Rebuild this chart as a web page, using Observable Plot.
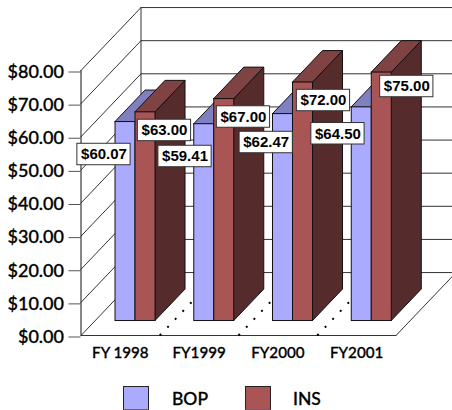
<!DOCTYPE html>
<html>
<head>
<meta charset="utf-8">
<script src="https://cdn.jsdelivr.net/npm/d3@7"></script>
<script src="https://cdn.jsdelivr.net/npm/@observablehq/plot@0.6"></script>
<style>
  html, body { margin: 0; padding: 0; background: #fff; overflow: hidden; }
  #legend { position: relative; height: 35px; font: 500 17.5px Lato, sans-serif; color: #000; -webkit-text-stroke: 0.3px #000; }
  #legend i { position: absolute; top: 11px; width: 24px; height: 22px; border: 1px solid #222; border-bottom-color: #666; }
  #legend span { position: absolute; top: 13px; line-height: 22px; }
  svg g[aria-label="y-axis tick label"] text, svg g[aria-label="x-axis tick label"] text { stroke: #000; stroke-width: 0.3px; }
</style>
</head>
<body>
<div id="chart"></div>
<div id="legend"></div>
<script>
// Budget figures per fiscal year
const fiscalYears = ["FY 1998", "FY1999", "FY2000", "FY2001"];
const bopValues = [60.07, 59.41, 62.47, 64.5];
const insValues = [63, 67, 72, 75];
const axisValues = [0, 10, 20, 30, 40, 50, 60, 70, 80];

// Where each value tag sits relative to its bar: slots across, dollars up
const bopTagAcross = [0.292, 0.321, 0.352, 0.263];
const bopTagUp = [-5.43, -5.37, -4.21, -3.6];
const insTagAcross = [1.06, 1.063, 1.079, 1.137];
const insTagUp = [-1.1, -1.04, -1.06, 0.17];

// Oblique projection: depth 0 is the front of the floor, depth 1 the back wall
const depthAcross = 0.762;
const depthUp = 19;
const px = (slot, depth) => slot + depth * depthAcross;
const py = (value, depth) => value + depth * depthUp;

const barFront = 0.23;
const barBack = 0.73;
const barStart = 0.263;
const barWidth = 0.254;
const lastSlot = fiscalYears.length;

const series = [
  {name: "BOP", values: bopValues, offset: 0, front: "#aaaaff", top: "#8080c0", side: "#55557f", across: bopTagAcross, up: bopTagUp},
  {name: "INS", values: insValues, offset: 1, front: "#aa5555", top: "#804343", side: "#552b2b", across: insTagAcross, up: insTagUp}
];

// Wall and floor lines
const frameLines = [];
const addLine = (id, points) => points.forEach(([x, y]) => frameLines.push({id, x, y}));
axisValues.forEach(v => {
  addLine(`side${v}`, [[px(0, 0), py(v, 0)], [px(0, 1), py(v, 1)]]);
  addLine(`back${v}`, [[px(0, 1), py(v, 1)], [px(lastSlot, 1), py(v, 1)]]);
});
addLine("corner", [[px(0, 1), py(0, 1)], [px(0, 1), py(80, 1)]]);
addLine("floorFront", [[px(0, 0), py(0, 0)], [px(lastSlot, 0), py(0, 0)]]);
addLine("floorRight", [[px(lastSlot, 0), py(0, 0)], [px(lastSlot, 1), py(0, 1)]]);

// Dotted separators across the floor between the years
const separators = [];
for (let s = 1; s < lastSlot; ++s) {
  separators.push({id: s, x: px(s, 0), y: py(0, 0)}, {id: s, x: px(s, 1), y: py(0, 1)});
}

// One set of faces per series so the colours stay together
const faceMarks = series.flatMap(sr => {
  const bars = sr.values.map((value, i) => {
    const x0 = i + barStart + sr.offset * barWidth;
    return {i, value, x0, x1: x0 + barWidth};
  });
  const sides = bars.flatMap(b => [
    {id: b.i, x: px(b.x1, barFront), y1: py(0, barFront), y2: py(b.value, barFront)},
    {id: b.i, x: px(b.x1, barBack), y1: py(0, barBack), y2: py(b.value, barBack)}
  ]);
  const tops = bars.flatMap(b => [
    {id: b.i, y: py(b.value, barFront), x1: px(b.x0, barFront), x2: px(b.x1, barFront)},
    {id: b.i, y: py(b.value, barBack), x1: px(b.x0, barBack), x2: px(b.x1, barBack)}
  ]);
  const outline = {stroke: "#111", strokeWidth: 1};
  return [
    Plot.area(sides, {x1: "x", y1: "y1", y2: "y2", z: "id", fill: sr.side, ...outline}),
    Plot.area(tops, {y1: "y", x1: "x1", x2: "x2", z: "id", fill: sr.top, ...outline}),
    Plot.rect(bars, {
      x1: b => px(b.x0, barFront), x2: b => px(b.x1, barFront),
      y1: py(0, barFront), y2: b => py(b.value, barFront),
      fill: sr.front, ...outline
    })
  ];
});

// Value tags, white boxes on top of the bars
const tagHalfWidth = 0.338;
const tagHalfHeight = 3.24;
const money = v => `$${v.toFixed(2)}`;
const tags = series.flatMap(sr => sr.values.map((value, i) => ({
  value,
  x: i + sr.across[i],
  y: value + sr.up[i]
})));

const chart = Plot.plot({
  width: 452,
  height: 375,
  marginLeft: 80.5,
  marginRight: 0,
  marginTop: 0,
  marginBottom: 40,
  x: {domain: [0, lastSlot], range: [80.5, 395.5]},
  y: {domain: [0, 80], range: [335, 70]},
  marks: [
    Plot.line(frameLines, {x: "x", y: "y", z: "id", stroke: "#333", strokeWidth: 1}),
    Plot.line(separators, {x: "x", y: "y", z: "id", stroke: "#000", strokeWidth: 2, strokeLinecap: "butt", strokeDasharray: "2 9"}),
    ...faceMarks,
    Plot.axisY({
      ticks: axisValues, tickSize: 12, tickPadding: 5, stroke: "#555",
      tickFormat: money, label: null, dy: 1.5,
      fill: "#000", fontFamily: "Lato", fontSize: 18, fontWeight: 500
    }),
    Plot.ruleX([0], {y1: 0, y2: 80, stroke: "#111"}),
    Plot.axisX({
      ticks: fiscalYears.map((_, i) => i + 0.5), tickSize: 0, tickPadding: 12,
      tickFormat: (d) => fiscalYears[d - 0.5], label: null,
      fill: "#000", fontFamily: "Lato", fontSize: 15.2, fontWeight: 500
    }),
    Plot.rect(tags, {
      x1: d => d.x - tagHalfWidth, x2: d => d.x + tagHalfWidth,
      y1: d => d.y - tagHalfHeight, y2: d => d.y + tagHalfHeight,
      fill: "#fff", stroke: "#333", strokeWidth: 1
    }),
    Plot.text(tags, {
      x: "x", y: "y", text: d => money(d.value),
      fill: "#000", fontFamily: "Liberation Sans", fontSize: 15, fontWeight: 700
    })
  ]
});
document.getElementById("chart").appendChild(chart);
chart.style.display = "block";

// Legend under the plot
const legendPlaces = [{swatch: 123, text: 172}, {swatch: 244.5, text: 293}];
const legend = document.getElementById("legend");
series.forEach((sr, i) => {
  const swatch = document.createElement("i");
  swatch.style.left = legendPlaces[i].swatch + "px";
  swatch.style.background = sr.front;
  const label = document.createElement("span");
  label.style.left = legendPlaces[i].text + "px";
  label.textContent = sr.name;
  legend.append(swatch, label);
});
</script>
</body>
</html>
